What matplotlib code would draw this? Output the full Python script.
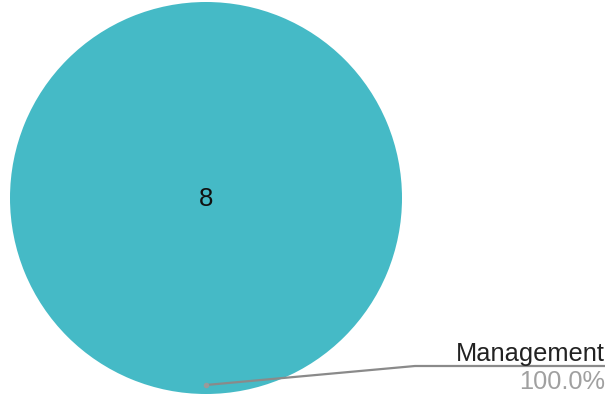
import matplotlib.pyplot as plt

labels = ['Management']
values = [8]
colors = ['#45BAC6']

plt.rcParams['font.family'] = ['Liberation Sans', 'DejaVu Sans']

fig = plt.figure(figsize=(6.08, 4.00), dpi=100)
ax = fig.add_axes([0, 0, 1, 1])
total = sum(values)

# pie in pixel coordinates (y down)
cx, cy, r = 206, 198, 196
wedges, _ = ax.pie(values, colors=colors, center=(cx, cy), radius=r,
                   startangle=90, counterclock=False,
                   wedgeprops=dict(linewidth=0))
ax.set_xlim(0, 608)
ax.set_ylim(400, 0)
ax.set_aspect('equal')
ax.axis('off')

ax.text(cx, cy + 1, str(values[0]), ha='center', va='center', fontsize=18.5, color='#111111')

# leader line and label
px, py = 206, 385
ax.plot([px, 415, 605], [py, 366, 366], color='#8a8a8a', lw=1.6, solid_capstyle='butt')
ax.plot([px], [py], 'o', color='#9a9a9a', ms=3)
ax.text(605, 361, labels[0], ha='right', va='baseline', fontsize=18.3, color='#222222')
ax.text(605, 389, '{:.1f}%'.format(values[0] / total * 100), ha='right', va='baseline',
        fontsize=18.3, color='#a0a0a0')

fig.savefig('out.png', dpi=100)
